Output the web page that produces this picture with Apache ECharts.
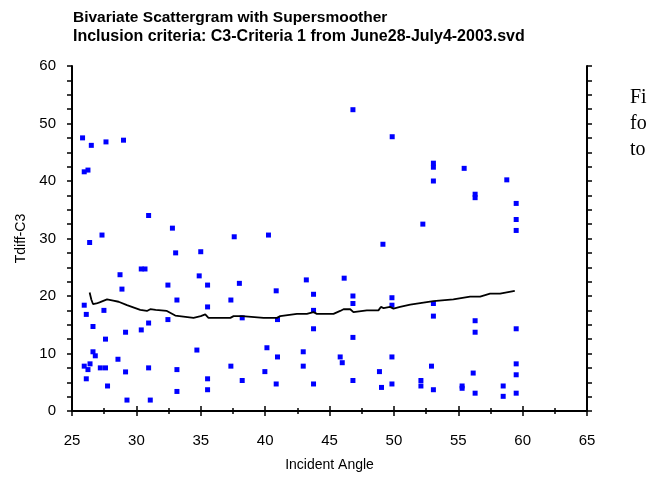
<!DOCTYPE html>
<html>
<head>
<meta charset="utf-8">
<script src="https://cdn.jsdelivr.net/npm/echarts@6/dist/echarts.min.js"></script>
<style>
  html, body { margin: 0; padding: 0; background: #fff; }
  #chart { width: 650px; height: 478px; }
</style>
</head>
<body>
<div id="chart"></div>
<script>
// scatter points (incident angle, Tdiff-C3)
var angleVals = [25.82, 26.5, 27.64, 29.0, 25.95, 26.24, 30.95, 32.8, 27.33, 37.6,
  26.37, 33.05, 35.0, 28.73, 30.38, 30.67, 34.88, 32.45, 35.53, 38.0,
  28.88, 33.15, 37.34, 25.95, 35.53, 27.48, 26.11, 32.45, 30.95, 26.63,
  29.16, 30.38, 27.6, 34.7, 26.63, 26.81, 28.57, 25.95, 26.24, 26.4,
  27.2, 27.6, 29.16, 30.95, 33.15, 37.34, 26.11, 35.53, 27.76, 33.15,
  35.53, 29.27, 31.08, 46.82, 49.87, 40.26, 49.15, 43.2, 46.14, 40.86,
  43.76, 46.82, 46.82, 49.85, 49.85, 38.22, 40.96, 43.76, 43.76, 46.82,
  40.14, 40.96, 42.96, 45.83, 45.99, 49.85, 39.98, 42.96, 48.88, 38.22,
  40.86, 43.76, 46.82, 49.04, 49.85, 53.07, 53.07, 55.46, 53.07, 58.77,
  56.31, 56.31, 59.5, 59.5, 52.25, 59.5, 53.07, 53.07, 56.31, 56.31,
  59.5, 52.92, 59.5, 56.16, 59.5, 52.1, 52.1, 53.07, 55.3, 55.3,
  56.31, 58.49, 58.49, 59.5];
var tdiffVals = [47.5, 46.2, 46.8, 47.1, 41.6, 41.9, 34.0, 31.8, 30.6, 30.3,
  29.3, 27.5, 27.7, 23.7, 24.7, 24.7, 23.5, 21.9, 21.9, 22.2,
  21.2, 19.3, 19.3, 18.4, 18.1, 17.5, 16.8, 15.9, 15.3, 14.7,
  13.7, 14.1, 12.5, 10.6, 10.3, 9.6, 9.0, 7.8, 7.2, 8.2,
  7.5, 7.5, 6.8, 7.5, 7.2, 7.8, 5.6, 5.6, 4.35, 3.4,
  3.7, 1.9, 1.9, 52.4, 47.7, 30.6, 29.0, 22.8, 23.1, 20.9,
  20.3, 20.0, 18.7, 19.7, 18.4, 16.2, 15.9, 17.5, 14.3, 12.8,
  11.0, 9.4, 10.3, 9.4, 8.4, 9.4, 6.85, 7.8, 6.85, 5.3,
  4.7, 4.7, 5.3, 4.1, 4.7, 43.1, 42.4, 42.2, 40.0, 40.2,
  37.7, 37.1, 36.1, 33.3, 32.5, 31.4, 18.7, 16.5, 15.7, 13.7,
  14.3, 7.8, 8.2, 6.6, 6.3, 5.3, 4.35, 3.7, 4.35, 3.95,
  3.1, 4.35, 2.55, 3.1];

// supersmoother curve
var smoothX = [26.37, 26.5, 26.63, 26.9, 27.14, 27.72, 28.2, 28.62, 29.27, 30.3,
  30.82, 31.08, 31.5, 32.37, 33.02, 33.15, 34.44, 35.0, 35.35, 35.6,
  37.3, 37.55, 38.22, 39.88, 40.0, 40.1, 40.92, 41.17, 42.47, 43.24,
  43.76, 44.02, 45.31, 45.83, 46.09, 46.61, 46.86, 47.9, 48.8, 48.99,
  49.2, 49.7, 49.97, 50.48, 51.27, 53.07, 54.62, 55.92, 56.7, 57.47,
  58.25, 59.39];
var smoothY = [20.6, 19.4, 18.6, 18.7, 18.9, 19.4, 19.2, 19.0, 18.4, 17.6,
  17.4, 17.7, 17.6, 17.4, 16.6, 16.5, 16.2, 16.5, 16.8, 16.2,
  16.2, 16.5, 16.5, 16.2, 16.4, 16.2, 16.2, 16.5, 16.9, 16.9,
  17.2, 16.9, 16.9, 17.4, 17.7, 17.7, 17.2, 17.5, 17.5, 18.1,
  17.9, 18.1, 17.8, 18.1, 18.5, 19.1, 19.4, 19.9, 19.9, 20.4,
  20.4, 20.9];

var titleLines = ['Bivariate Scattergram with Supersmoother',
  'Inclusion criteria: C3-Criteria 1 from June28-July4-2003.svd'];

var pts = angleVals.map(function (a, i) { return [a, tdiffVals[i]]; });
var curve = smoothX.map(function (a, i) { return [a, smoothY[i]]; });

var font = 'Arial, "Liberation Sans", sans-serif';
var axisLine = { show: true, lineStyle: { color: '#000', width: 2 } };
var tickStyle = { color: '#000', width: 1.5 };

var chart = echarts.init(document.getElementById('chart'));
chart.setOption({
  animation: false,
  backgroundColor: '#fff',
  graphic: [
    {
      type: 'text', left: 73, top: 10,
      style: { text: titleLines[0], font: 'bold 15.5px Arial, "Liberation Sans", sans-serif', fill: '#000' }
    },
    {
      type: 'text', left: 73, top: 29,
      style: { text: titleLines[1], font: 'bold 16px Arial, "Liberation Sans", sans-serif', fill: '#000' }
    },
    {
      type: 'text', left: 630, top: 85,
      style: { text: 'Fi\nfo\nto', fontFamily: '"Liberation Serif", "Times New Roman", serif', fontSize: 20, lineHeight: 26, fill: '#000' }
    }
  ],
  grid: { left: 72, right: 63, top: 66, height: 345 },
  xAxis: [
    {
      type: 'value', min: 25, max: 65, interval: 5,
      name: 'Incident Angle', nameLocation: 'middle', nameGap: 47,
      nameTextStyle: { fontFamily: font, fontSize: 14, color: '#000' },
      axisLine: axisLine,
      axisTick: { show: true, length: 5, lineStyle: tickStyle },
      minorTick: { show: true, splitNumber: 2, length: 3, lineStyle: tickStyle },
      axisLabel: { fontFamily: font, fontSize: 15, color: '#000', margin: 22 },
      splitLine: { show: false }
    },
    {
      type: 'value', position: 'top', min: 25, max: 65, interval: 5,
      axisLine: axisLine,
      axisTick: { show: true, length: 5, lineStyle: tickStyle },
      minorTick: { show: true, splitNumber: 2, length: 3, lineStyle: tickStyle },
      axisLabel: { show: false },
      splitLine: { show: false }
    }
  ],
  yAxis: [
    {
      type: 'value', min: 0, max: 60, interval: 10,
      name: 'Tdiff-C3', nameLocation: 'middle', nameGap: 41,
      nameTextStyle: { fontFamily: font, fontSize: 14, color: '#000' },
      axisLine: axisLine,
      axisTick: { show: true, length: 5, lineStyle: tickStyle },
      minorTick: { show: true, splitNumber: 4, length: 5, lineStyle: tickStyle },
      axisLabel: { fontFamily: font, fontSize: 15, color: '#000', margin: 16 },
      splitLine: { show: false }
    },
    {
      type: 'value', position: 'right', min: 0, max: 60, interval: 10,
      axisLine: axisLine,
      axisTick: { show: true, length: 5, lineStyle: tickStyle },
      minorTick: { show: true, splitNumber: 4, length: 5, lineStyle: tickStyle },
      axisLabel: { show: false },
      splitLine: { show: false }
    }
  ],
  series: [
    {
      type: 'scatter', data: pts, symbol: 'rect', symbolSize: 5,
      itemStyle: { color: '#0000ff', opacity: 1 }
    },
    {
      type: 'line', data: curve, showSymbol: false, smooth: false,
      lineStyle: { color: '#000', width: 1.8 }
    }
  ]
});
</script>
</body>
</html>
